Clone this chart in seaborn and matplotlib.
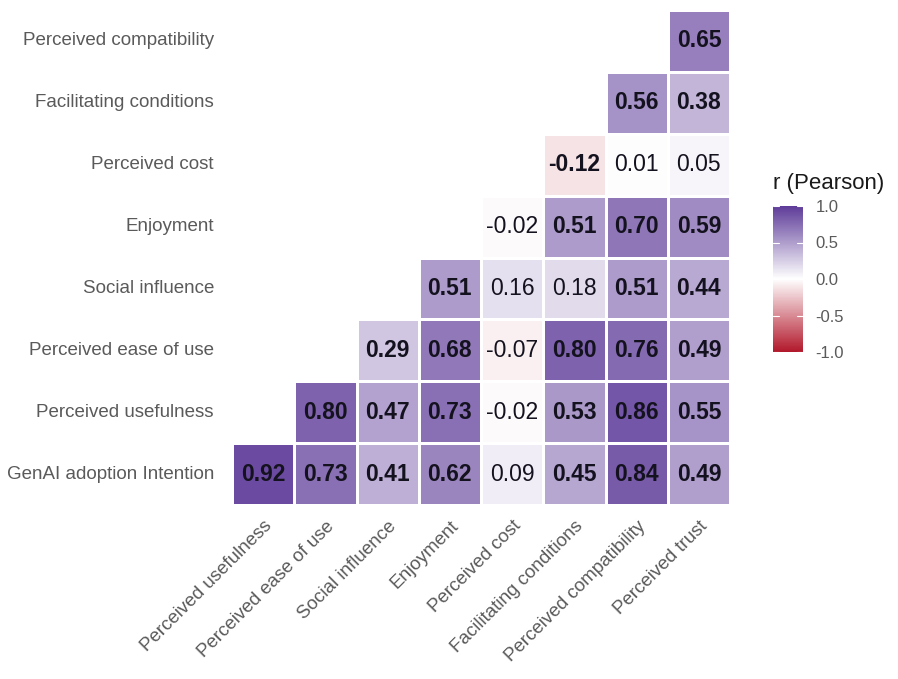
import numpy as np
import pandas as pd
import matplotlib
matplotlib.use("Agg")
import matplotlib.pyplot as plt
from matplotlib.colors import LinearSegmentedColormap
import seaborn as sns

# Construct labels: rows listed top to bottom, columns left to right
row_labels = [
    "Perceived compatibility",
    "Facilitating conditions",
    "Perceived cost",
    "Enjoyment",
    "Social influence",
    "Perceived ease of use",
    "Perceived usefulness",
    "GenAI adoption Intention",
]
col_labels = [
    "Perceived usefulness",
    "Perceived ease of use",
    "Social influence",
    "Enjoyment",
    "Perceived cost",
    "Facilitating conditions",
    "Perceived compatibility",
    "Perceived trust",
]

# Pearson r for each row (right-aligned, lower triangle)
r_compat = [0.65]
r_fc = [0.56, 0.38]
r_cost = [-0.12, 0.01, 0.05]
r_enj = [-0.02, 0.51, 0.70, 0.59]
r_si = [0.51, 0.16, 0.18, 0.51, 0.44]
r_peou = [0.29, 0.68, -0.07, 0.80, 0.76, 0.49]
r_pu = [0.80, 0.47, 0.73, -0.02, 0.53, 0.86, 0.55]
r_genai = [0.92, 0.73, 0.41, 0.62, 0.09, 0.45, 0.84, 0.49]

# Significance flags (bold labels) in the same layout
s_compat = [1]
s_fc = [1, 1]
s_cost = [1, 0, 0]
s_enj = [0, 1, 1, 1]
s_si = [1, 0, 0, 1, 1]
s_peou = [1, 1, 0, 1, 1, 1]
s_pu = [1, 1, 1, 0, 1, 1, 1]
s_genai = [1, 1, 1, 1, 0, 1, 1, 1]

r_rows = [r_compat, r_fc, r_cost, r_enj, r_si, r_peou, r_pu, r_genai]
s_rows = [s_compat, s_fc, s_cost, s_enj, s_si, s_peou, s_pu, s_genai]

n = len(col_labels)


def pad_left(vals):
    return [np.nan] * (n - len(vals)) + list(vals)


corr = pd.DataFrame([pad_left(v) for v in r_rows], index=row_labels, columns=col_labels)
sig = np.array([pad_left(v) for v in s_rows])

sns.set_theme(style="white")
plt.rcParams["font.family"] = ["Liberation Sans", "DejaVu Sans"]

cmap = LinearSegmentedColormap.from_list("rwp", ["#B2182B", "#FFFFFF", "#5E3C99"])

W, H = 898, 679
fig = plt.figure(figsize=(W / 100, H / 100), dpi=100)
ax = fig.add_axes([232 / W, 1 - 505 / H, 498 / W, 495 / H])
cax = fig.add_axes([773 / W, 1 - 352 / H, 30 / W, 146 / H])

sns.heatmap(
    corr, ax=ax, cmap=cmap, vmin=-1, vmax=1,
    annot=True, fmt=".2f",
    annot_kws={"fontsize": 16.5, "color": "#15121f"},
    linewidths=1.0, linecolor="white",
    cbar_ax=cax, cbar_kws={"ticks": [-1, -0.5, 0, 0.5, 1]},
)

# Bold the significant coefficients
for t in ax.texts:
    x, y = t.get_position()
    i, j = int(y), int(x)
    t.set_fontweight("bold" if sig[i, j] == 1 else "normal")

ax.set_xlabel("")
ax.set_ylabel("")
ax.tick_params(axis="both", length=0)
ax.tick_params(axis="y", pad=13, labelsize=13.5, labelcolor="#5a5a5a")
ax.tick_params(axis="x", pad=9, labelsize=13.5, labelcolor="#5a5a5a")
ax.set_yticklabels(row_labels, rotation=0)
ax.set_xticklabels(col_labels, rotation=45, ha="right", va="top", rotation_mode="anchor")

# Colorbar styling
cbar = ax.collections[0].colorbar
cbar.outline.set_visible(False)
cbar.set_ticklabels(["-1.0", "-0.5", "0.0", "0.5", "1.0"])
cax.tick_params(axis="y", length=0, pad=9, labelsize=12, labelcolor="#5a5a5a")
for v in [-1, -0.5, 0, 0.5, 1]:
    cax.axhline(v, xmin=0, xmax=0.2, color="white", lw=0.8)
    cax.axhline(v, xmin=0.8, xmax=1, color="white", lw=0.8)
cax.set_title("r (Pearson)", loc="left", fontsize=16, color="#1a1a1a", pad=12)

fig.savefig("out.png", dpi=100, facecolor="white")
